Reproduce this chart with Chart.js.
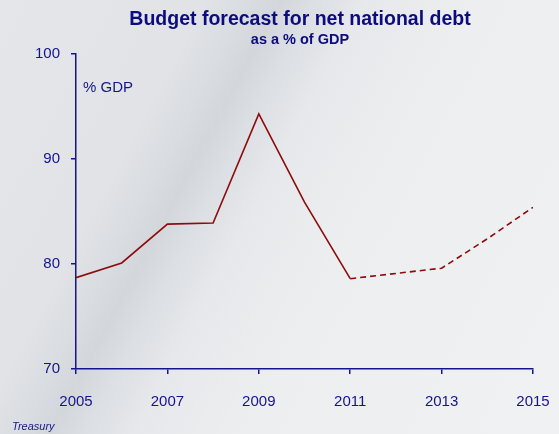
<!DOCTYPE html>
<html>
<head>
<meta charset="utf-8">
<script src="https://cdn.jsdelivr.net/npm/chart.js@4/dist/chart.umd.min.js"></script>
<style>
  html, body { margin: 0; padding: 0; }
  body {
    width: 559px; height: 434px; overflow: hidden;
    background: linear-gradient(118deg, #e4e6e9 0%, #e1e3e6 26%, #dadde1 31%, #d3d6db 35.5%, #dcdfe3 40%, #e6e8eb 46%, #eceef0 60%, #f0f1f3 100%);
  }
  #wrap { position: relative; width: 559px; height: 434px; }
</style>
</head>
<body>
<div id="wrap"><canvas id="c" width="559" height="434"></canvas></div>
<script>
const years = [2005, 2006, 2007, 2008, 2009, 2010, 2011, 2012, 2013, 2014, 2015];
const debtPct = [78.7, 80.1, 83.8, 83.9, 94.3, 85.9, 78.6, 79.1, 79.6, 82.4, 85.4];
const forecastFromIndex = 6; // 2011 onward drawn dashed
const yTicks = [70, 80, 90, 100];
const xTicks = [2005, 2007, 2009, 2011, 2013, 2015];
const titleText = 'Budget forecast for net national debt';
const subtitleText = 'as a % of GDP';
const unitText = '% GDP';
const sourceText = 'Treasury';

const NAVY = '#14148c';
const FONT = "'Liberation Sans', Arial, sans-serif";

const textPlugin = {
  id: 'texts',
  afterDraw(chart) {
    const ctx = chart.ctx;
    ctx.save();
    ctx.fillStyle = '#0c0c7e';
    ctx.textAlign = 'center';
    ctx.textBaseline = 'middle';
    ctx.font = "bold 19.5px " + FONT;
    ctx.fillText(titleText, 300, 20);
    ctx.font = "bold 14.5px " + FONT;
    ctx.fillText(subtitleText, 300, 40);
    ctx.fillStyle = NAVY;
    ctx.textAlign = 'left';
    ctx.font = "15px " + FONT;
    ctx.fillText(unitText, 83, 88);
    ctx.font = "italic 11px " + FONT;
    ctx.fillText(sourceText, 12, 427);
    ctx.restore();
  }
};

new Chart(document.getElementById('c'), {
  type: 'line',
  data: {
    datasets: [{
      data: years.map((y, i) => ({ x: y, y: debtPct[i] })),
      borderColor: '#8e0b0b',
      borderWidth: 1.6,
      pointRadius: 0,
      tension: 0,
      fill: false,
      segment: {
        borderDash: ctx => ctx.p0DataIndex >= forecastFromIndex ? [6, 4] : undefined
      }
    }]
  },
  options: {
    responsive: false,
    animation: false,
    devicePixelRatio: 1,
    layout: { padding: { top: 54, left: 0, right: 26, bottom: 0 } },
    plugins: { legend: { display: false }, tooltip: { enabled: false } },
    scales: {
      x: {
        type: 'linear',
        min: 2005, max: 2015,
        afterBuildTicks: s => { s.ticks = xTicks.map(v => ({ value: v })); },
        afterFit: s => { s.height = 434 - 369; s.paddingLeft = 0; s.paddingRight = 0; },
        border: { display: true, color: NAVY, width: 1.5 },
        grid: { display: true, drawOnChartArea: false, drawTicks: true, tickLength: 5, color: NAVY, lineWidth: 1.5 },
        ticks: { color: NAVY, font: { family: FONT, size: 15 }, padding: 19, maxRotation: 0, callback: v => String(v) }
      },
      y: {
        min: 70, max: 100,
        afterBuildTicks: s => { s.ticks = yTicks.map(v => ({ value: v })); },
        afterFit: s => { s.width = 76; s.paddingTop = 0; s.paddingBottom = 0; },
        border: { display: true, color: NAVY, width: 1.5 },
        grid: { display: true, drawOnChartArea: false, drawTicks: true, tickLength: 5, color: NAVY, lineWidth: 1.5 },
        ticks: { color: NAVY, font: { family: FONT, size: 15 }, padding: 11 }
      }
    }
  },
  plugins: [textPlugin]
});
</script>
</body>
</html>
